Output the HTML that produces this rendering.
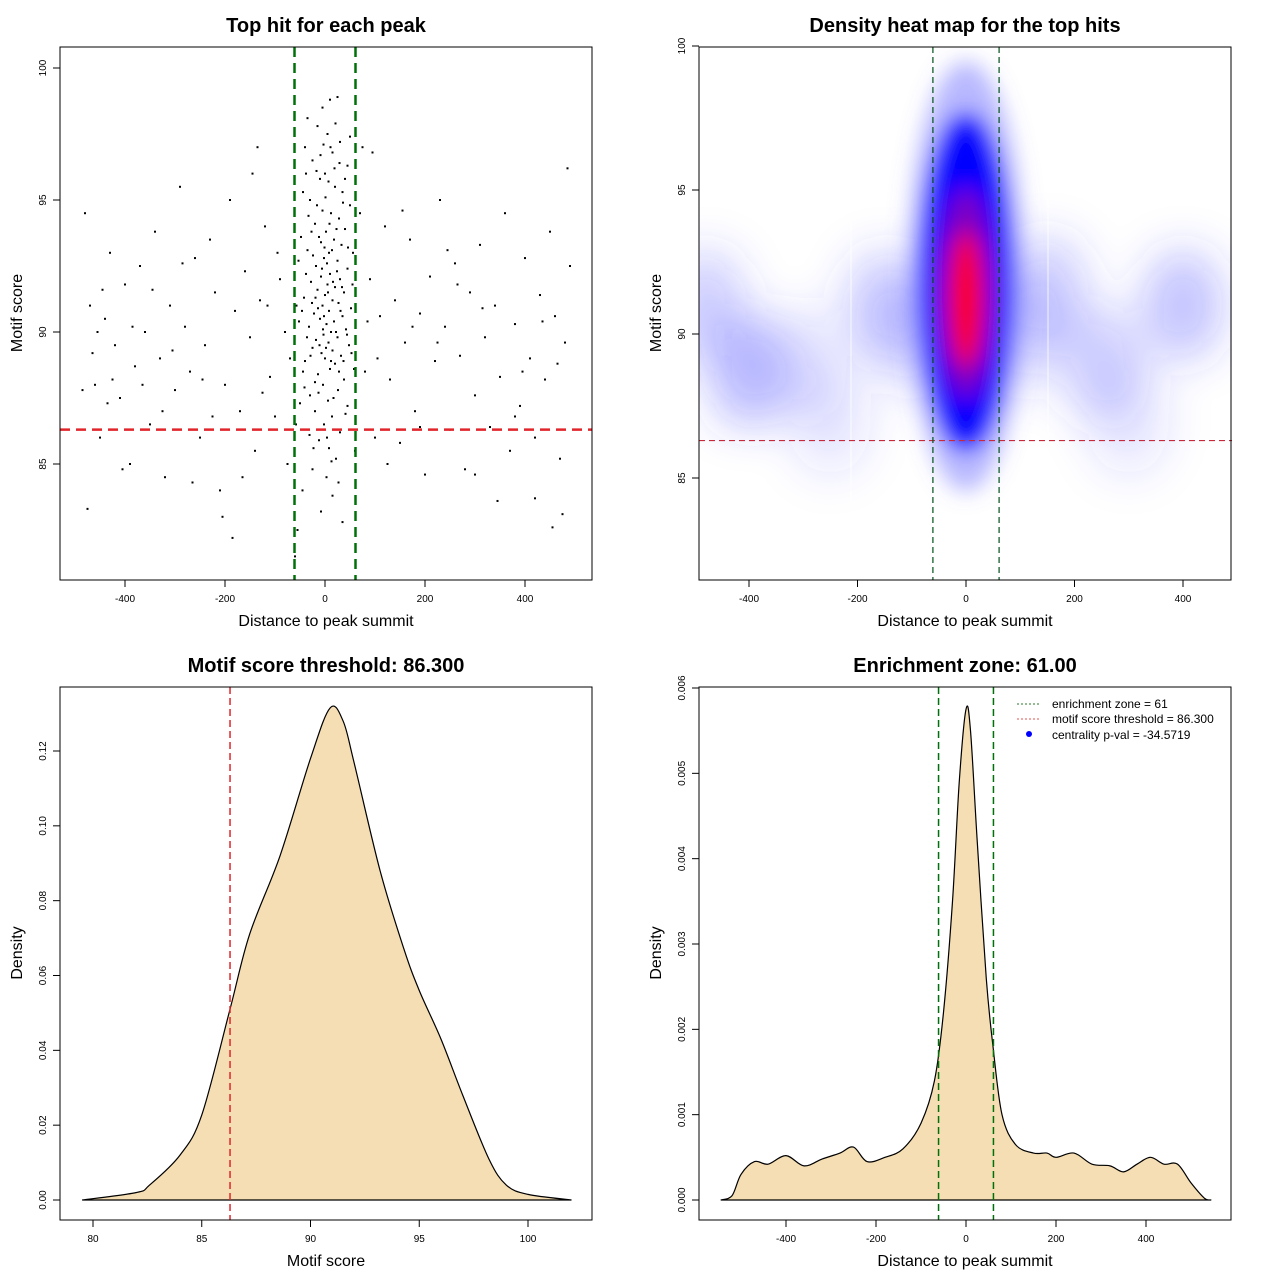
<!DOCTYPE html>
<html><head><meta charset="utf-8"><style>
html,body{margin:0;padding:0;background:#fff;width:1280px;height:1280px;overflow:hidden}
svg text{font-family:"Liberation Sans",sans-serif;fill:#000}
</style></head><body>
<svg id="s" width="1280" height="1280" xmlns="http://www.w3.org/2000/svg">
<defs>
<filter id="blur" x="-80%" y="-50%" width="260%" height="200%"><feGaussianBlur stdDeviation="11"/></filter>
<filter id="blur2" x="-50%" y="-50%" width="200%" height="200%"><feGaussianBlur stdDeviation="22"/></filter>
<clipPath id="hmclip"><rect x="699" y="47" width="533" height="533"/></clipPath>
</defs>
</svg>
<script>
// ---------- DATA ----------
const scatterPts = "-5,98.5 10,98.8 25,98.9 -15,97.8 5,97.5 30,97.2 -40,97 15,96.8 -25,96.5 45,96.3 0,96 -10,95.8 20,95.5 35,95.3 -30,95 50,94.8 -5,94.6 12,94.5 28,94.3 -20,94.1 40,93.9 2,93.8 -12,93.6 18,93.5 33,93.3 -35,93.1 8,93 -2,92.8 25,92.7 -18,92.5 45,92.4 10,92.2 -8,92.1 30,92 -28,91.9 5,91.8 20,91.7 -15,91.6 38,91.5 0,91.4 -42,91.3 15,91.2 27,91.1 -5,91 52,90.9 8,90.8 -22,90.7 35,90.6 -10,90.5 18,90.4 3,90.3 -32,90.2 42,90.1 12,90 -3,89.9 25,89.8 -18,89.7 7,89.6 48,89.5 -25,89.4 15,89.3 -7,89.2 32,89.1 0,89 -40,88.9 20,88.8 10,88.6 -14,88.4 38,88.2 -4,88 26,87.8 -30,87.6 6,87.4 45,87.2 -20,87 14,86.8 -2,86.5 30,86.2 -12,85.9 8,85.6 22,85.2 -25,84.8 3,84.5 -45,84 15,83.8 -8,83.2 35,82.8 -55,82.5 -60,81.5 -2,90.6 6,91.5 -6,92.4 14,93.1 -16,94.8 22,90.0 -24,92.9 28,88.5 -36,89.8 40,95.8 -48,93.6 55,91.8 -52,90.4 58,88.6 -50,87.3 1,95.1 9,94.1 -11,89.5 17,87.5 -19,91.3 23,93.9 31,90.8 -33,94.4 44,89.9 -44,88.5 4,86 11,97 -9,96.7 50,97.4 -38,96 56,93 -57,91 60,85.5 -58,86.5 -4,90.1 4,92.6 -8,93.4 16,91.9 -14,90.9 24,92.3 -26,91.1 2,89.4 12,88.9 -20,88.1 34,91.7 -1,93.2 7,95.7 -3,97.1 19,96.2 -17,96.1 -480,94.5 -470,91 -460,88 -450,86 -440,90.5 -430,93 -420,89.5 -410,87.5 -400,91.8 -390,85 -380,88.7 -370,92.5 -360,90 -350,86.5 -340,93.8 -330,89 -320,84.5 -310,91 -300,87.8 -290,95.5 -280,90.2 -270,88.5 -260,92.8 -250,86 -240,89.5 -230,93.5 -220,91.5 -210,84 -200,88 -190,95 -180,90.8 -170,87 -160,92.3 -150,89.8 -140,85.5 -130,91.2 -120,94 -110,88.3 -100,86.8 -90,92 -80,90 -70,89 -75,85 -95,93 -115,91 -135,97 -145,96 -125,87.7 -165,84.5 -185,82.2 -205,83 -225,86.8 -245,88.2 -265,84.3 -285,92.6 -305,89.3 -325,87 -345,91.6 -365,88 -385,90.2 -405,84.8 -425,88.2 -445,91.6 -465,89.2 -485,87.8 -475,83.3 -455,90 -435,87.3 80,88.5 90,92 100,86 110,90.6 120,94 130,88.2 140,91.2 150,85.8 160,89.6 170,93.5 180,87 190,90.7 200,84.6 210,92.1 220,88.9 230,95 240,90.2 250,86.3 260,92.6 270,89.1 280,84.8 290,91.5 300,87.6 310,93.3 320,89.8 330,86.4 340,91 350,88.3 360,94.5 370,85.5 380,90.3 390,87.2 400,92.8 410,89 420,86 430,91.4 440,88.2 450,93.8 460,90.6 470,85.2 480,89.6 490,92.5 485,96.2 475,83.1 455,82.6 420,83.7 380,86.8 345,83.6 300,84.6 265,91.8 225,89.6 190,86.4 155,94.6 125,85 95,96.8 105,89 175,90.2 245,93.1 315,90.9 395,88.5 435,90.4 465,88.8 70,94.5 75,97 85,90.4 -38,92.2 -46,90.8 -29,89.1 -53,92.7 46,93.2 53,89.2 37,88.9 -41,87.9 -31,86.1 41,86.9 -23,85.6 27,84.3 -13,87.7 13,85.1 -27,93.8 36,94.9 -44,95.3 21,97.9 -35,98.1 29,96.4";
const scoreX = [79.5,82,82.6,84,85,86.3,87.2,88.6,90,90.9,91.5,92,93.2,94.3,95,96,97,98.2,99,100,102];
const scoreDens = [0,0.002,0.004,0.012,0.0227,0.051,0.071,0.092,0.118,0.1315,0.128,0.117,0.088,0.067,0.056,0.043,0.028,0.011,0.004,0.0015,0];
const distX = [-545,-520,-500,-470,-440,-400,-360,-320,-280,-250,-220,-180,-140,-100,-70,-50,-30,-15,0,10,25,45,60,80,110,150,180,200,240,280,320,350,380,410,440,470,500,530,545];
const distDens = [0,0.00005,0.0003,0.00045,0.00042,0.00052,0.0004,0.00048,0.00055,0.00062,0.00045,0.0005,0.0006,0.0009,0.0014,0.0022,0.0035,0.0049,0.00575,0.0055,0.0042,0.0026,0.0018,0.001,0.00065,0.00055,0.00055,0.0005,0.00055,0.00042,0.0004,0.00033,0.00042,0.0005,0.00042,0.00042,0.0002,0.00002,0];
const blobX = [-400,-480,-300,-150,150,250,400,-250,300,0,-100,100];
const blobY = [88.7,91,89,91,91.5,89,91,87,87,91.5,90,90];
const blobOp = [0.35,0.25,0.15,0.25,0.25,0.25,0.3,0.12,0.12,0.2,0.2,0.2];
const xTicksDist = [-400,-200,0,200,400];
const yTicksScore = [85,90,95,100];
const xTicksScore = [80,85,90,95,100];
const yTicksD1 = [0,0.02,0.04,0.06,0.08,0.10,0.12];
const yTicksD2 = [0,0.001,0.002,0.003,0.004,0.005,0.006];
const threshold = 86.3, zone = 61;

// ---------- helpers ----------
const S = document.getElementById('s');
const NS = 'http://www.w3.org/2000/svg';
function mk(tag, attrs, parent){const e=document.createElementNS(NS,tag);for(const k in attrs)e.setAttribute(k,attrs[k]);(parent||S).appendChild(e);return e;}
function txt(x,y,str,size,opts){const t=mk('text',Object.assign({x:x,y:y,'font-size':size,'text-anchor':'middle'},opts||{}));t.textContent=str;return t;}
function lin(a,b,c,d){return v=>c+(v-a)*(d-c)/(b-a);}
function smooth(pts){let d='M'+pts[0][0]+','+pts[0][1];for(let i=0;i<pts.length-1;i++){const p0=pts[Math.max(0,i-1)],p1=pts[i],p2=pts[i+1],p3=pts[Math.min(pts.length-1,i+2)];const c1=[p1[0]+(p2[0]-p0[0])/6,p1[1]+(p2[1]-p0[1])/6],c2=[p2[0]-(p3[0]-p1[0])/6,p2[1]-(p3[1]-p1[1])/6];d+=' C'+c1[0]+','+c1[1]+' '+c2[0]+','+c2[1]+' '+p2[0]+','+p2[1];}return d;}
function panel(x0,y0,title,xlab,ylab,name){
  const g=mk('g',{});
  
  
  const t=txt(x0+266,y0-15,title,20,{'font-weight':'bold'});
  
  
  const xl=txt(x0+266,y0+579,xlab,16);
  
  
  const yl=txt(0,0,ylab,16,{transform:'translate('+(x0-38)+','+(y0+266)+') rotate(-90)'});
  
  
  return g;
}
function frame(x0,y0,name){const r=mk('rect',{x:x0,y:y0,width:532,height:533,fill:'none',stroke:'#000','stroke-width':1});
  
  }
function xticks(vals,sx,yb,name,fmt){vals.forEach(v=>{const x=sx(v);mk('line',{x1:x,x2:x,y1:yb,y2:yb+7,stroke:'#000'});const t=txt(x,yb+22,fmt?fmt(v):String(v),10);
  
  });}
function yticks(vals,sy,xl,name,fmt){vals.forEach(v=>{const y=sy(v);mk('line',{x1:xl-7,x2:xl,y1:y,y2:y,stroke:'#000'});const t=txt(0,0,fmt?fmt(v):String(v),10,{transform:'translate('+(xl-14)+','+y+') rotate(-90)'});
  
  });}

// ---------- Panel 1: scatter ----------
panel(60,47,'Top hit for each peak','Distance to peak summit','Motif score','scatter-panel');
const sx1=lin(0,400,325,525), sy1=lin(90,95,332,200);
scatterPts.split(' ').forEach(p=>{const [dx,sc]=p.split(',').map(Number);
  const r=mk('rect',{x:sx1(dx)-1,y:sy1(sc)-1,width:2,height:2,fill:'#000'});
  
  });
let l=mk('line',{x1:60,x2:592,y1:sy1(threshold),y2:sy1(threshold),stroke:'#e0262b','stroke-width':2.5,'stroke-dasharray':'10,6'});


[-zone,zone].forEach(z=>{const e=mk('line',{x1:sx1(z),x2:sx1(z),y1:47,y2:580,stroke:'#00700a','stroke-width':2.5,'stroke-dasharray':'10,6'});
  
  });
frame(60,47,'scatter');
xticks(xTicksDist,sx1,580,'scatter');
yticks(yTicksScore,sy1,60,'scatter');

// ---------- Panel 2: heat map ----------
panel(699,47,'Density heat map for the top hits','Distance to peak summit','Motif score','heatmap-panel');
const sx2=lin(0,400,966,1183), sy2=lin(90,95,334,190);
const hg=mk('g',{'clip-path':'url(#hmclip)'});


const bg=mk('g',{filter:'url(#blur2)'},hg);
blobX.forEach((bx,i)=>{const e=mk('ellipse',{cx:sx2(bx),cy:sy2(blobY[i]),rx:40,ry:55,fill:'#3b3bff','fill-opacity':blobOp[i]},bg);
  
  });
const cg=mk('g',{filter:'url(#blur)'},hg);
mk('ellipse',{cx:sx2(0),cy:sy2(92),rx:58,ry:215,fill:'#7070ff','fill-opacity':0.5},cg);
mk('ellipse',{cx:sx2(0),cy:sy2(91.8),rx:44,ry:168,fill:'#0000ff'},cg);
mk('ellipse',{cx:sx2(0),cy:sy2(91.4),rx:26,ry:105,fill:'#8000c0'},cg);
mk('ellipse',{cx:sx2(0),cy:sy2(91.2),rx:16,ry:68,fill:'#ff0000'},cg);
[851,1048].forEach(x=>mk('line',{x1:x,x2:x,y1:160,y2:520,stroke:'#fff','stroke-width':1,'stroke-opacity':0.8},hg));
l=mk('line',{x1:699,x2:1232,y1:sy2(threshold),y2:sy2(threshold),stroke:'#c8283a','stroke-width':1.2,'stroke-dasharray':'6,4'});


[-zone,zone].forEach(z=>{const e=mk('line',{x1:sx2(z),x2:sx2(z),y1:47,y2:580,stroke:'#00501a','stroke-width':1.2,'stroke-dasharray':'6,4'});
  
  });
frame(699,47,'heatmap');
xticks(xTicksDist,sx2,580,'heatmap');
yticks(yTicksScore,sy2,699,'heatmap');

// ---------- Panel 3: score density ----------
panel(60,687,'Motif score threshold: 86.300','Motif score','Density','score-density-panel');
const sx3=lin(80,100,93,528), sy3=lin(0,0.12,1200,751);
let pts=scoreX.map((v,i)=>[sx3(v),sy3(scoreDens[i])]);
let p=mk('path',{d:smooth(pts)+' Z',fill:'#f5deb3',stroke:'#000','stroke-width':1.2});


l=mk('line',{x1:sx3(threshold),x2:sx3(threshold),y1:687,y2:1220,stroke:'#e0262b','stroke-width':1.5,'stroke-dasharray':'7,4'});


frame(60,687,'score-density');
xticks(xTicksScore,sx3,1220,'score-density');
yticks(yTicksD1,sy3,60,'score-density',v=>v.toFixed(2));

// ---------- Panel 4: distance density ----------
panel(699,687,'Enrichment zone: 61.00','Distance to peak summit','Density','distance-density-panel');
const sx4=lin(0,400,966,1146), sy4=lin(0,0.006,1200,688);
pts=distX.map((v,i)=>[sx4(v),sy4(distDens[i])]);
p=mk('path',{d:smooth(pts)+' Z',fill:'#f5deb3',stroke:'#000','stroke-width':1.2});


[-zone,zone].forEach(z=>{const e=mk('line',{x1:sx4(z),x2:sx4(z),y1:687,y2:1220,stroke:'#00700a','stroke-width':1.5,'stroke-dasharray':'7,4'});
  
  });
frame(699,687,'distance-density');
xticks(xTicksDist,sx4,1220,'distance-density');
yticks(yTicksD2,sy4,699,'distance-density',v=>v.toFixed(3));
// legend
const lg=mk('g',{});


mk('line',{x1:1017,x2:1041,y1:704,y2:704,stroke:'#2a7a2a','stroke-dasharray':'2,2'},lg);
mk('line',{x1:1017,x2:1041,y1:719,y2:719,stroke:'#e05050','stroke-dasharray':'2,2'},lg);
mk('circle',{cx:1029,cy:734,r:3,fill:'#0000ff'},lg);
[['enrichment zone = 61',708],['motif score threshold = 86.300',723],['centrality p-val = -34.5719',739]].forEach(a=>{
  const t=txt(1052,a[1],a[0],12,{'text-anchor':'start'});
  
  
  lg.appendChild(t);});
</script>
</body></html>
